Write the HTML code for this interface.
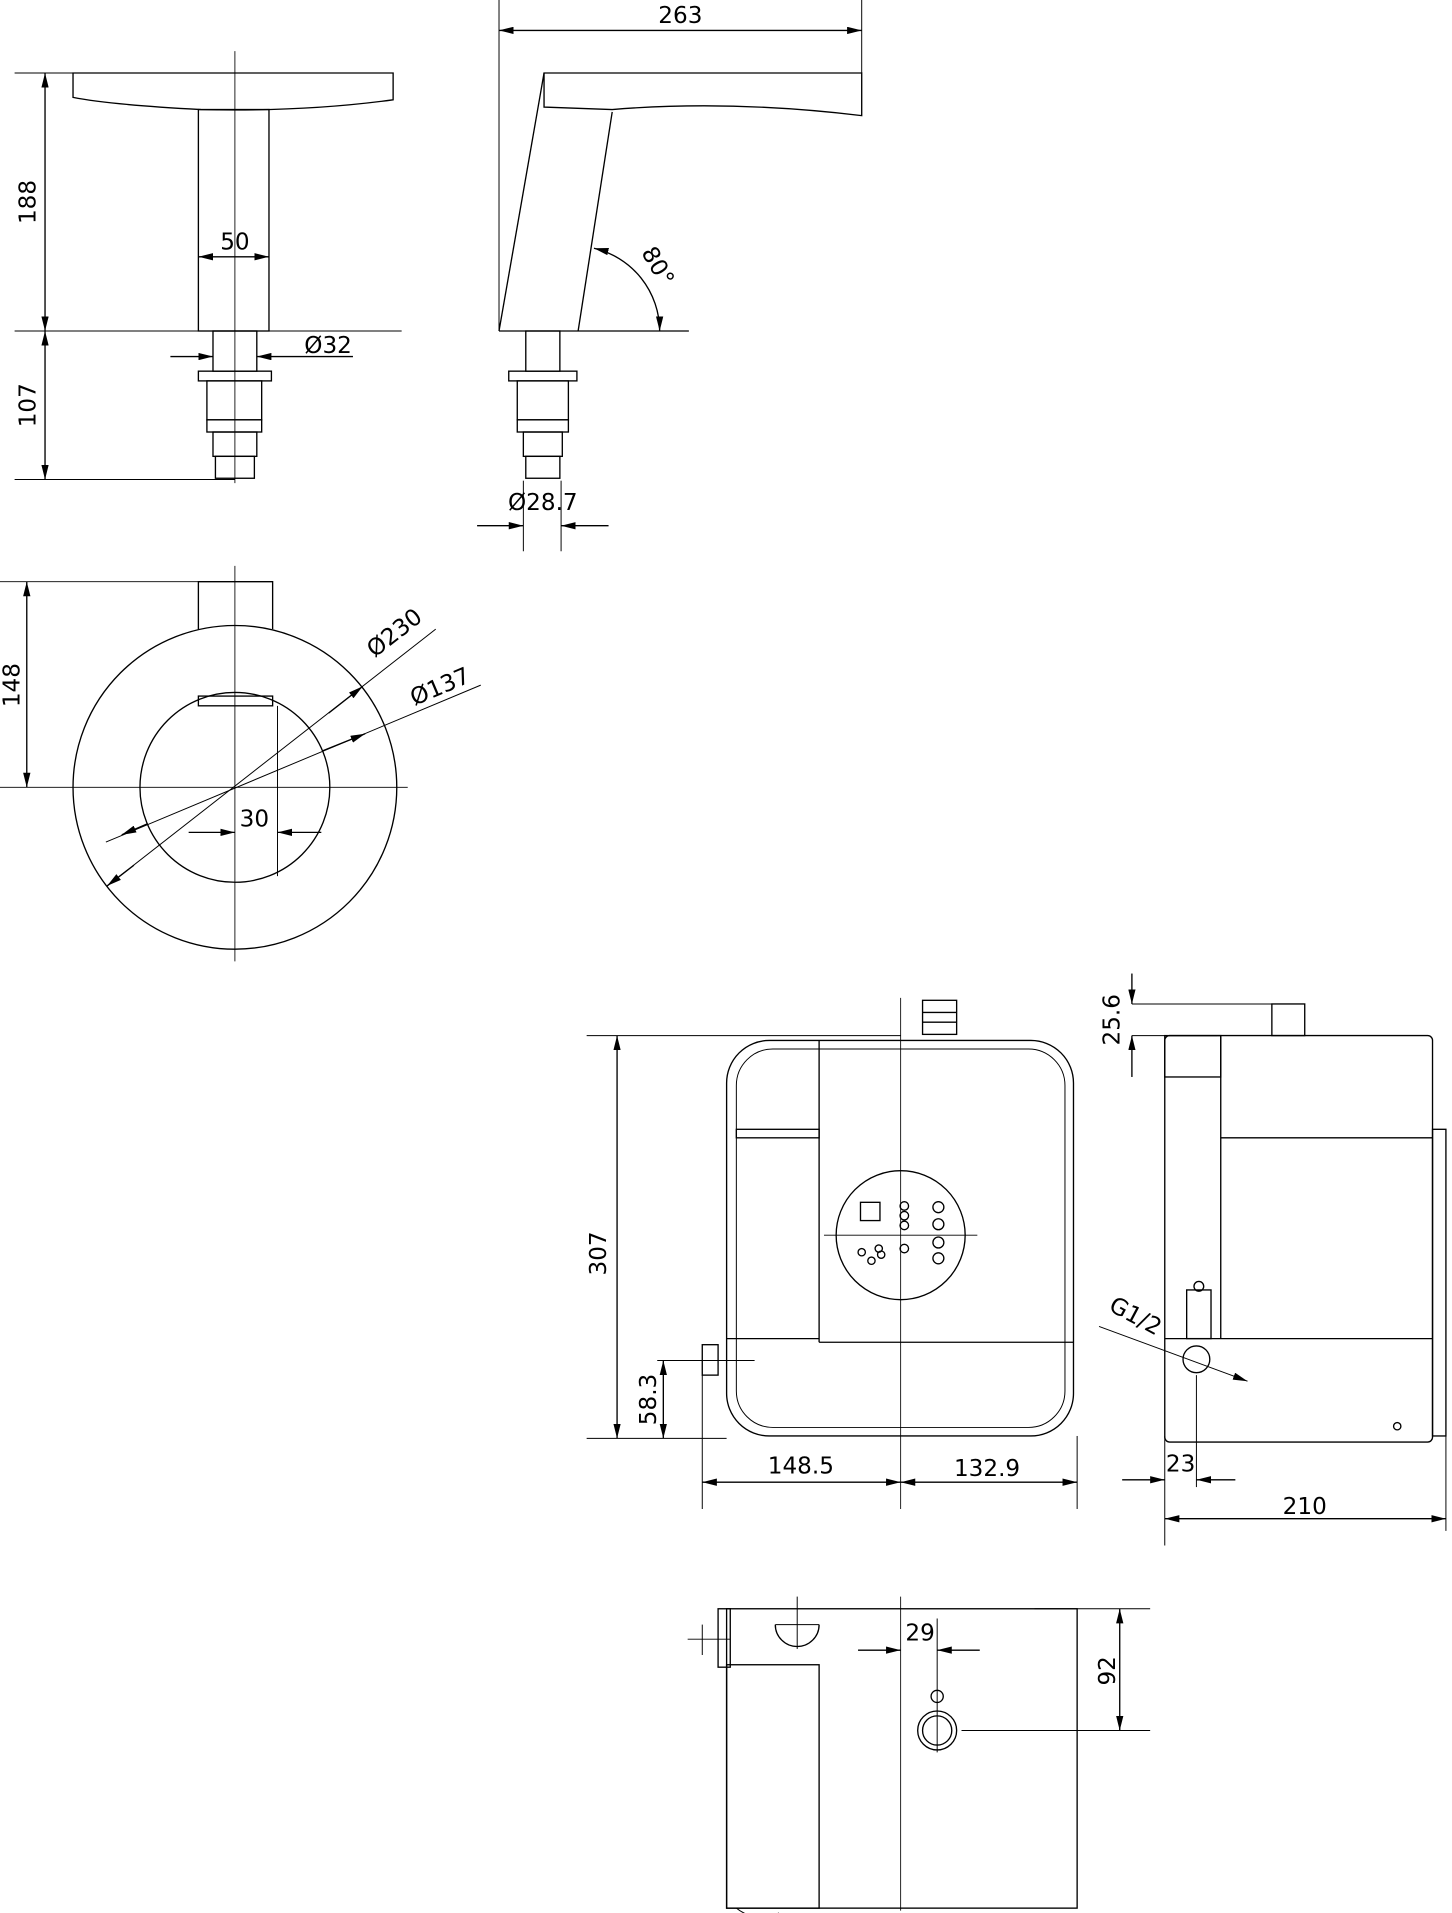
<!DOCTYPE html>
<html><head><meta charset="utf-8"><style>
html,body{margin:0;padding:0;background:#fff;}
svg{display:block}
text{font-family:"DejaVu Sans","Liberation Sans",sans-serif;font-size:19px;fill:#000}
</style></head><body>
<svg width="1452" height="1913" viewBox="0 0 1193 1572" preserveAspectRatio="none" xmlns="http://www.w3.org/2000/svg">
<defs>
<marker id="a" viewBox="0 0 12 6" refX="12" refY="3" markerWidth="12" markerHeight="6" orient="auto-start-reverse" markerUnits="userSpaceOnUse"><path d="M0,0 L12,3 L0,6 Z" fill="#000"/></marker>
</defs>
<g fill="none" stroke="#000" stroke-width="1.1">
<!-- TOP LEFT front view -->
<path d="M60,60 L323,60 L323,82 Q250,92 165,90 Q90,86 60,80 Z"/>
<rect x="163" y="90" width="58" height="182"/>
<line x1="193" y1="42" x2="193" y2="397" stroke-width="0.7"/>
<line x1="12" y1="60" x2="60" y2="60" stroke-width="0.8"/>
<line x1="12" y1="272" x2="330" y2="272" stroke-width="0.8"/>
<line x1="12" y1="394" x2="193" y2="394" stroke-width="0.8"/>
<line x1="37" y1="60" x2="37" y2="272" marker-start="url(#a)" marker-end="url(#a)"/>
<line x1="37" y1="272" x2="37" y2="394" marker-start="url(#a)" marker-end="url(#a)"/>
<line x1="163" y1="211" x2="221" y2="211" marker-start="url(#a)" marker-end="url(#a)"/>
<rect x="175" y="272" width="36" height="33"/>
<rect x="163" y="305" width="60" height="8"/>
<rect x="170" y="313" width="45" height="32"/>
<rect x="170" y="345" width="45" height="10"/>
<rect x="175" y="355" width="36" height="20"/>
<rect x="177" y="375" width="32" height="18"/>
<line x1="140" y1="293" x2="175" y2="293" marker-end="url(#a)"/>
<line x1="290" y1="293" x2="211" y2="293" marker-end="url(#a)"/>

<!-- TOP RIGHT side view -->
<line x1="410" y1="0" x2="410" y2="272" stroke-width="0.8"/>
<line x1="708" y1="0" x2="708" y2="60" stroke-width="0.8"/>
<line x1="410" y1="25" x2="708" y2="25" marker-start="url(#a)" marker-end="url(#a)"/>
<path d="M447,60 L708,60 L708,95 Q600,82 503,90 L447,88 Z"/>
<line x1="447" y1="60" x2="410" y2="272"/>
<line x1="503" y1="92" x2="475" y2="272"/>
<line x1="410" y1="272" x2="566" y2="272"/>
<path d="M488,204 A70,70 0 0 1 542,272" marker-start="url(#a)" marker-end="url(#a)"/>
<rect x="432" y="272" width="28" height="33"/>
<rect x="418" y="305" width="56" height="8"/>
<rect x="425" y="313" width="42" height="32"/>
<rect x="425" y="345" width="42" height="10"/>
<rect x="430" y="355" width="32" height="20"/>
<rect x="432" y="375" width="28" height="18"/>
<line x1="430" y1="395" x2="430" y2="453" stroke-width="0.8"/>
<line x1="461" y1="395" x2="461" y2="453" stroke-width="0.8"/>
<line x1="392" y1="432" x2="430" y2="432" marker-end="url(#a)"/>
<line x1="500" y1="432" x2="461" y2="432" marker-end="url(#a)"/>

<!-- CIRCLE view -->
<circle cx="193" cy="647" r="133"/>
<circle cx="193" cy="647" r="78"/>
<path d="M163,517 L163,478 L224,478 L224,517"/>
<rect x="163" y="572" width="61" height="8"/>
<line x1="193" y1="465" x2="193" y2="790" stroke-width="0.7"/>
<line x1="0" y1="647" x2="335" y2="647" stroke-width="0.7"/>
<line x1="0" y1="478" x2="163" y2="478" stroke-width="0.8"/>
<line x1="22" y1="478" x2="22" y2="647" marker-start="url(#a)" marker-end="url(#a)"/>
<line x1="228" y1="580" x2="228" y2="720" stroke-width="0.8"/>
<line x1="155" y1="684" x2="193" y2="684" marker-end="url(#a)"/>
<line x1="264" y1="684" x2="228" y2="684" marker-end="url(#a)"/>
<line x1="88" y1="728" x2="358" y2="517" stroke-width="0.8"/>
<line x1="110" y1="711" x2="88" y2="728" marker-end="url(#a)"/>
<line x1="270" y1="586" x2="298" y2="564" marker-end="url(#a)"/>
<line x1="87" y1="692" x2="395" y2="563" stroke-width="0.8"/>
<line x1="100" y1="686" x2="121" y2="677" marker-start="url(#a)"/>
<line x1="300" y1="603" x2="265" y2="617" marker-start="url(#a)"/>

<!-- FRONT pump view -->
<rect x="597" y="855" width="285" height="325" rx="35"/>
<rect x="605" y="862" width="270" height="311" rx="30" stroke-width="0.8"/>
<line x1="673" y1="855" x2="673" y2="1103"/>
<line x1="673" y1="1103" x2="882" y2="1103"/>
<line x1="597" y1="1100" x2="673" y2="1100"/>
<rect x="605" y="928" width="68" height="7"/>
<line x1="740" y1="820" x2="740" y2="1240" stroke-width="0.7"/>
<line x1="677" y1="1015" x2="803" y2="1015" stroke-width="0.7"/>
<circle cx="740" cy="1015" r="53"/>
<rect x="707" y="988" width="16" height="15"/>
<circle cx="743" cy="991" r="3.5"/><circle cx="743" cy="999" r="3.5"/><circle cx="743" cy="1007" r="3.5"/><circle cx="743" cy="1026" r="3.5"/>
<circle cx="771" cy="992" r="4.5"/><circle cx="771" cy="1006" r="4.5"/><circle cx="771" cy="1021" r="4.5"/><circle cx="771" cy="1034" r="4.5"/>
<circle cx="708" cy="1029" r="3"/><circle cx="716" cy="1036" r="3"/><circle cx="722" cy="1026" r="3"/><circle cx="724" cy="1031" r="3"/>
<rect x="758" y="822" width="28" height="28"/>
<line x1="758" y1="832" x2="786" y2="832"/><line x1="758" y1="840" x2="786" y2="840"/>
<line x1="482" y1="851" x2="740" y2="851" stroke-width="0.8"/>
<line x1="482" y1="1182" x2="597" y2="1182" stroke-width="0.8"/>
<line x1="507" y1="851" x2="507" y2="1182" marker-start="url(#a)" marker-end="url(#a)"/>
<line x1="540" y1="1118" x2="620" y2="1118" stroke-width="0.8"/>
<line x1="545" y1="1118" x2="545" y2="1182" marker-start="url(#a)" marker-end="url(#a)"/>
<rect x="577" y="1105" width="13" height="25"/>
<line x1="577" y1="1130" x2="577" y2="1240" stroke-width="0.8"/>
<line x1="885" y1="1180" x2="885" y2="1240" stroke-width="0.8"/>
<line x1="577" y1="1218" x2="740" y2="1218" marker-start="url(#a)" marker-end="url(#a)"/>
<line x1="740" y1="1218" x2="885" y2="1218" marker-start="url(#a)" marker-end="url(#a)"/>

<!-- SIDE pump view -->
<rect x="957" y="851" width="220" height="334" rx="4"/>
<rect x="1177" y="928" width="11" height="252"/>
<rect x="957" y="851" width="46" height="34"/>
<line x1="1003" y1="851" x2="1003" y2="1100"/>
<line x1="1003" y1="935" x2="1177" y2="935"/>
<line x1="957" y1="1100" x2="1177" y2="1100"/>
<rect x="975" y="1060" width="20" height="40"/>
<circle cx="985" cy="1057" r="4"/>
<rect x="1045" y="825" width="27" height="26"/>
<line x1="930" y1="825" x2="1045" y2="825" stroke-width="0.8"/>
<line x1="930" y1="851" x2="1000" y2="851" stroke-width="0.8"/>
<line x1="930" y1="800" x2="930" y2="825" marker-end="url(#a)"/>
<line x1="930" y1="885" x2="930" y2="851" marker-end="url(#a)"/>
<circle cx="983" cy="1117" r="11"/>
<line x1="903" y1="1090" x2="1025" y2="1135" stroke-width="0.8" marker-end="url(#a)"/>
<line x1="957" y1="1180" x2="957" y2="1270" stroke-width="0.8"/>
<line x1="983" y1="1130" x2="983" y2="1222" stroke-width="0.8"/>
<line x1="922" y1="1216" x2="957" y2="1216" marker-end="url(#a)"/>
<line x1="1015" y1="1216" x2="983" y2="1216" marker-end="url(#a)"/>
<line x1="1188" y1="1180" x2="1188" y2="1258" stroke-width="0.8"/>
<line x1="957" y1="1248" x2="1188" y2="1248" marker-start="url(#a)" marker-end="url(#a)"/>
<circle cx="1148" cy="1172" r="3"/>

<!-- BOTTOM view -->
<rect x="597" y="1322" width="288" height="246"/>
<rect x="597" y="1368" width="76" height="200"/>
<line x1="740" y1="1312" x2="740" y2="1570" stroke-width="0.7"/>
<rect x="590" y="1322" width="10" height="48"/>
<line x1="565" y1="1347" x2="600" y2="1347" stroke-width="0.8"/>
<line x1="577" y1="1335" x2="577" y2="1360" stroke-width="0.8"/>
<path d="M637,1335 A18,18 0 0 0 673,1335"/>
<line x1="655" y1="1312" x2="655" y2="1355" stroke-width="0.8"/>
<line x1="637" y1="1335" x2="673" y2="1335" stroke-width="0.8"/>
<circle cx="770" cy="1422" r="16"/>
<circle cx="770" cy="1422" r="12"/>
<circle cx="770" cy="1394" r="5"/>
<line x1="770" y1="1330" x2="770" y2="1440" stroke-width="0.8"/>
<line x1="705" y1="1356" x2="740" y2="1356" marker-end="url(#a)"/>
<line x1="805" y1="1356" x2="770" y2="1356" marker-end="url(#a)"/>
<line x1="850" y1="1322" x2="945" y2="1322" stroke-width="0.8"/>
<line x1="790" y1="1422" x2="945" y2="1422" stroke-width="0.8"/>
<line x1="920" y1="1322" x2="920" y2="1422" marker-start="url(#a)" marker-end="url(#a)"/>
<path d="M605,1568 Q620,1580 640,1572" stroke-width="0.8"/>
</g>
<g>
<text transform="translate(29,166) rotate(-90)" text-anchor="middle">188</text>
<text transform="translate(29,333) rotate(-90)" text-anchor="middle">107</text>
<text x="193" y="205" text-anchor="middle">50</text>
<text x="250" y="290">Ø32</text>
<text x="559" y="19" text-anchor="middle">263</text>
<text transform="translate(535,222) rotate(60)" text-anchor="middle">80°</text>
<text x="446" y="419" text-anchor="middle">Ø28.7</text>
<text transform="translate(16,563) rotate(-90)" text-anchor="middle">148</text>
<text x="209" y="679" text-anchor="middle">30</text>
<text transform="translate(328,525) rotate(-38)" text-anchor="middle">Ø230</text>
<text transform="translate(364,570) rotate(-23)" text-anchor="middle">Ø137</text>
<text transform="translate(498,1030) rotate(-90)" text-anchor="middle">307</text>
<text transform="translate(539,1150) rotate(-90)" text-anchor="middle">58.3</text>
<text x="658" y="1211" text-anchor="middle">148.5</text>
<text x="811" y="1213" text-anchor="middle">132.9</text>
<text transform="translate(920,838) rotate(-90)" text-anchor="middle">25.6</text>
<text transform="translate(930,1087) rotate(28)" text-anchor="middle">G1/2</text>
<text x="970" y="1209" text-anchor="middle">23</text>
<text x="1072" y="1244" text-anchor="middle">210</text>
<text x="756" y="1348" text-anchor="middle">29</text>
<text transform="translate(916,1373) rotate(-90)" text-anchor="middle">92</text>
</g>
</svg>
</body></html>
